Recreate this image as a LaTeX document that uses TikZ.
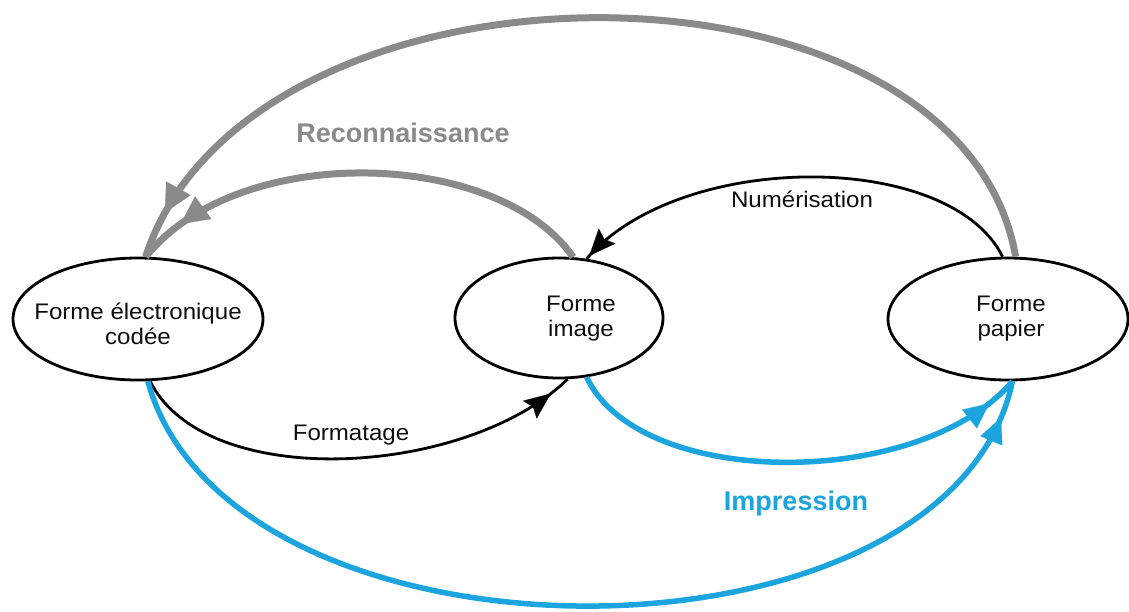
\documentclass[tikz,border=0pt]{standalone}
\usepackage{fontspec}
\setmainfont{Liberation Sans}[FakeStretch=1.07]
\newfontfamily\headfont{Liberation Sans}
\usetikzlibrary{shapes.geometric,arrows.meta,decorations.markings}

\definecolor{recgray}{RGB}{138,138,138}
\definecolor{impblue}{RGB}{28,164,222}
\definecolor{inkblack}{RGB}{15,15,15}

\begin{document}
\begin{tikzpicture}[x=1pt,y=-1pt,
  form/.style={ellipse, draw=black, line width=2.8pt, inner sep=0pt},
  formtext/.style={font=\fontsize{22.5}{25}\selectfont, align=center, inner sep=0pt, text=inkblack},
  steplabel/.style={font=\fontsize{22.5}{25}\selectfont, inner sep=0pt, anchor=base, text=inkblack},
  headlabel/.style={font=\headfont\bfseries\fontsize{27}{30}\selectfont, inner sep=0pt, anchor=base},
  grayflow/.style={draw=recgray, line width=7pt, postaction={decorate},
    decoration={markings, mark=at position #1 with
      {\arrow[recgray, scale=1.4]{Triangle[length=20pt,width=20pt,line width=0.1pt]}}}},
  blackflow/.style={draw=black, line width=2.8pt, postaction={decorate},
    decoration={markings, mark=at position #1 with
      {\arrow[black, scale=1.4]{Stealth[length=19pt,width=16pt,inset=3pt,line width=0.1pt]}}}},
  blueflow/.style={draw=impblue, line width=5.5pt, postaction={decorate},
    decoration={markings, mark=at position #1 with
      {\arrow[impblue, scale=1.4]{Triangle[length=18pt,width=17pt,line width=0.1pt]}}}}]

\useasboundingbox (0,0) rectangle (1129,611);

% the three forms of a document
\node[form, minimum width=250pt, minimum height=122pt] (E) at (138,319) {};
\node[form, minimum width=208pt, minimum height=120pt] (I) at (559,318) {};
\node[form, minimum width=240pt, minimum height=122pt] (P) at (1008,319) {};

\node[formtext] (Et) at (138,324) {Forme électronique\\codée};
\node[formtext] (It) at (581,319) {Forme\\image};
\node[formtext] (Pt) at (1011,319) {Forme\\papier};

% recognition (grey)
\draw[grayflow=-48pt] (P.83) .. controls (960,-62) and (250,-62) .. (E.83);
\draw[grayflow=-48pt] (I.77) .. controls (500,150) and (240,140) .. (E.83);

% scanning and formatting (black)
\draw[blackflow=-4pt] (P.95) .. controls (950,150) and (680,150) .. (I.65);
\draw[blackflow=-22pt] (E.-79) .. controls (205,492) and (465,478) .. (I.-82);

% printing (blue)
\draw[blueflow=-32pt] (I.-65) .. controls (640,490) and (920,490) .. (P.-86);
\draw[blueflow=-38pt] (E.-81) .. controls (230,681) and (950,681) .. (P.-86);

% labels
\node[headlabel, text=recgray] (rec) at (403,142) {Reconnaissance};
\node[steplabel] (num) at (802,207) {Numérisation};
\node[steplabel] (fmt) at (351,440) {Formatage};
\node[headlabel, text=impblue] (imp) at (796,510) {Impression};
\end{tikzpicture}
\end{document}
